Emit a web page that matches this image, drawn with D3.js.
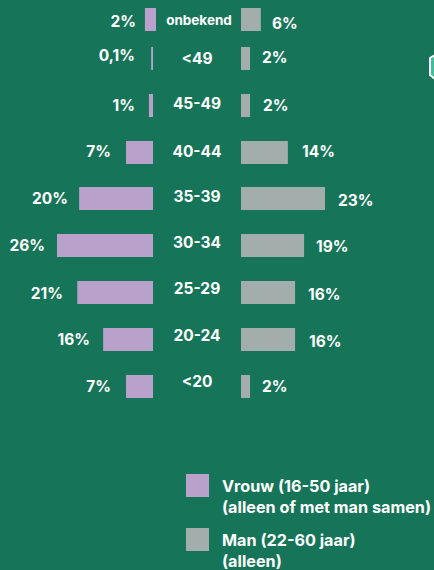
<!DOCTYPE html>
<html>
<head>
<meta charset="utf-8">
<script src="https://cdn.jsdelivr.net/npm/d3@7"></script>
<style>
  html, body { margin: 0; padding: 0; background: #167558; overflow: hidden; }
  svg { display: block; }
  text { font-family: Inter, "Open Sans", sans-serif; font-weight: 700; fill: #fff; }
</style>
</head>
<body>
<script>
var ageGroups = ['onbekend', '<49', '45-49', '40-44', '35-39', '30-34', '25-29', '20-24', '<20'];

// printed labels
var womenLabels = ['2%', '0,1%', '1%', '7%', '20%', '26%', '21%', '16%', '7%'];
var menLabels = ['6%', '2%', '2%', '14%', '23%', '19%', '16%', '16%', '2%'];

// bar lengths as drawn in the picture (they do not follow the labels exactly)
var womenBars = [3, 0.5, 1.1, 7.3, 20, 26, 20.5, 13.5, 7.3];
var menBars = [5.5, 2.5, 2.5, 13, 23.3, 17.5, 15, 15, 2.5];

var legendItems = [
  ['Vrouw (16-50 jaar)', '(alleen of met man samen)'],
  ['Man (22-60 jaar)', '(alleen)']
];

var width = 434, height = 570;
var barHeight = 23;
var purple = '#b9a1cb', grey = '#a3aeac';

var svg = d3.select('body').append('svg')
  .attr('width', width)
  .attr('height', height);

var yScale = d3.scaleBand()
  .domain(ageGroups)
  .range([0, 421.8]);

var womenX = d3.scaleLinear().domain([0, 26]).range([153, 57]);
var menX = d3.scaleLinear().domain([0, 23.3]).range([241, 325]);

// the source is hand placed, so each row has its own small shifts
var rowShift = [8, 0, 0, 0, 0, 0, 0, 0, 0];
var womenShift = [3, 0, 0, 0, 0, 0, 0, 0, 0];
var womenLabelX = [136, 135, 135, 111, 68, 45, 63, 90, 111];
var menLabelX = [272, 262, 263, 302, 338, 316, 308, 309, 262];
var womenLabelDy = [2, -3, 0, -1, 0, 0, 1, 0, 0];
var menLabelDy = [4, -1, 0, -1, 2, 1, 2, 2, 0];
var centerDy = [0, 0, -2, -1, -2, -3, -4, -4, -5];
var centerX = [199, 197, 197, 197, 197, 197, 197, 197, 197];

function rowTop(i) {
  return Math.round(yScale(ageGroups[i])) + rowShift[i];
}

svg.selectAll('rect.women')
  .data(womenBars)
  .enter().append('rect')
  .attr('class', 'women')
  .attr('x', function(d, i) { return womenX(d) + womenShift[i]; })
  .attr('y', function(d, i) { return rowTop(i); })
  .attr('width', function(d) { return womenX(0) - womenX(d); })
  .attr('height', barHeight)
  .attr('fill', purple);

svg.selectAll('rect.men')
  .data(menBars)
  .enter().append('rect')
  .attr('class', 'men')
  .attr('x', menX(0))
  .attr('y', function(d, i) { return rowTop(i); })
  .attr('width', function(d) { return menX(d) - menX(0); })
  .attr('height', barHeight)
  .attr('fill', grey);

svg.selectAll('text.women-label')
  .data(womenLabels)
  .enter().append('text')
  .attr('class', 'women-label')
  .attr('x', function(d, i) { return womenLabelX[i]; })
  .attr('y', function(d, i) { return rowTop(i) + 17 + womenLabelDy[i]; })
  .attr('text-anchor', 'end')
  .attr('font-size', 15.5)
  .text(function(d) { return d; });

svg.selectAll('text.men-label')
  .data(menLabels)
  .enter().append('text')
  .attr('class', 'men-label')
  .attr('x', function(d, i) { return menLabelX[i]; })
  .attr('y', function(d, i) { return rowTop(i) + 17 + menLabelDy[i]; })
  .attr('font-size', 15.5)
  .text(function(d) { return d; });

svg.selectAll('text.age')
  .data(ageGroups)
  .enter().append('text')
  .attr('class', 'age')
  .attr('x', function(d, i) { return centerX[i]; })
  .attr('y', function(d, i) { return rowTop(i) + 17 + centerDy[i]; })
  .attr('text-anchor', 'middle')
  .attr('font-size', function(d, i) { return i === 0 ? 13.5 : 15.5; })
  .text(function(d) { return d; });

// legend
var legend = svg.selectAll('g.legend')
  .data(legendItems)
  .enter().append('g')
  .attr('class', 'legend')
  .attr('transform', function(d, i) { return 'translate(186,' + (474 + i * 54) + ')'; });

legend.append('rect')
  .attr('width', 23)
  .attr('height', 23)
  .attr('fill', function(d, i) { return i === 0 ? purple : grey; });

legend.selectAll('text')
  .data(function(d) { return d; })
  .enter().append('text')
  .attr('x', 36)
  .attr('y', function(d, i) { return 18 + i * 21; })
  .attr('font-size', 16.2)
  .text(function(d) { return d; });

// cut off icon at the right edge of the picture
svg.append('path')
  .attr('d', d3.line()([[435, 55], [430, 58], [430, 75], [435, 79]]))
  .attr('fill', '#3fc09a')
  .attr('stroke', '#fff')
  .attr('stroke-width', 2);
</script>
</body>
</html>
